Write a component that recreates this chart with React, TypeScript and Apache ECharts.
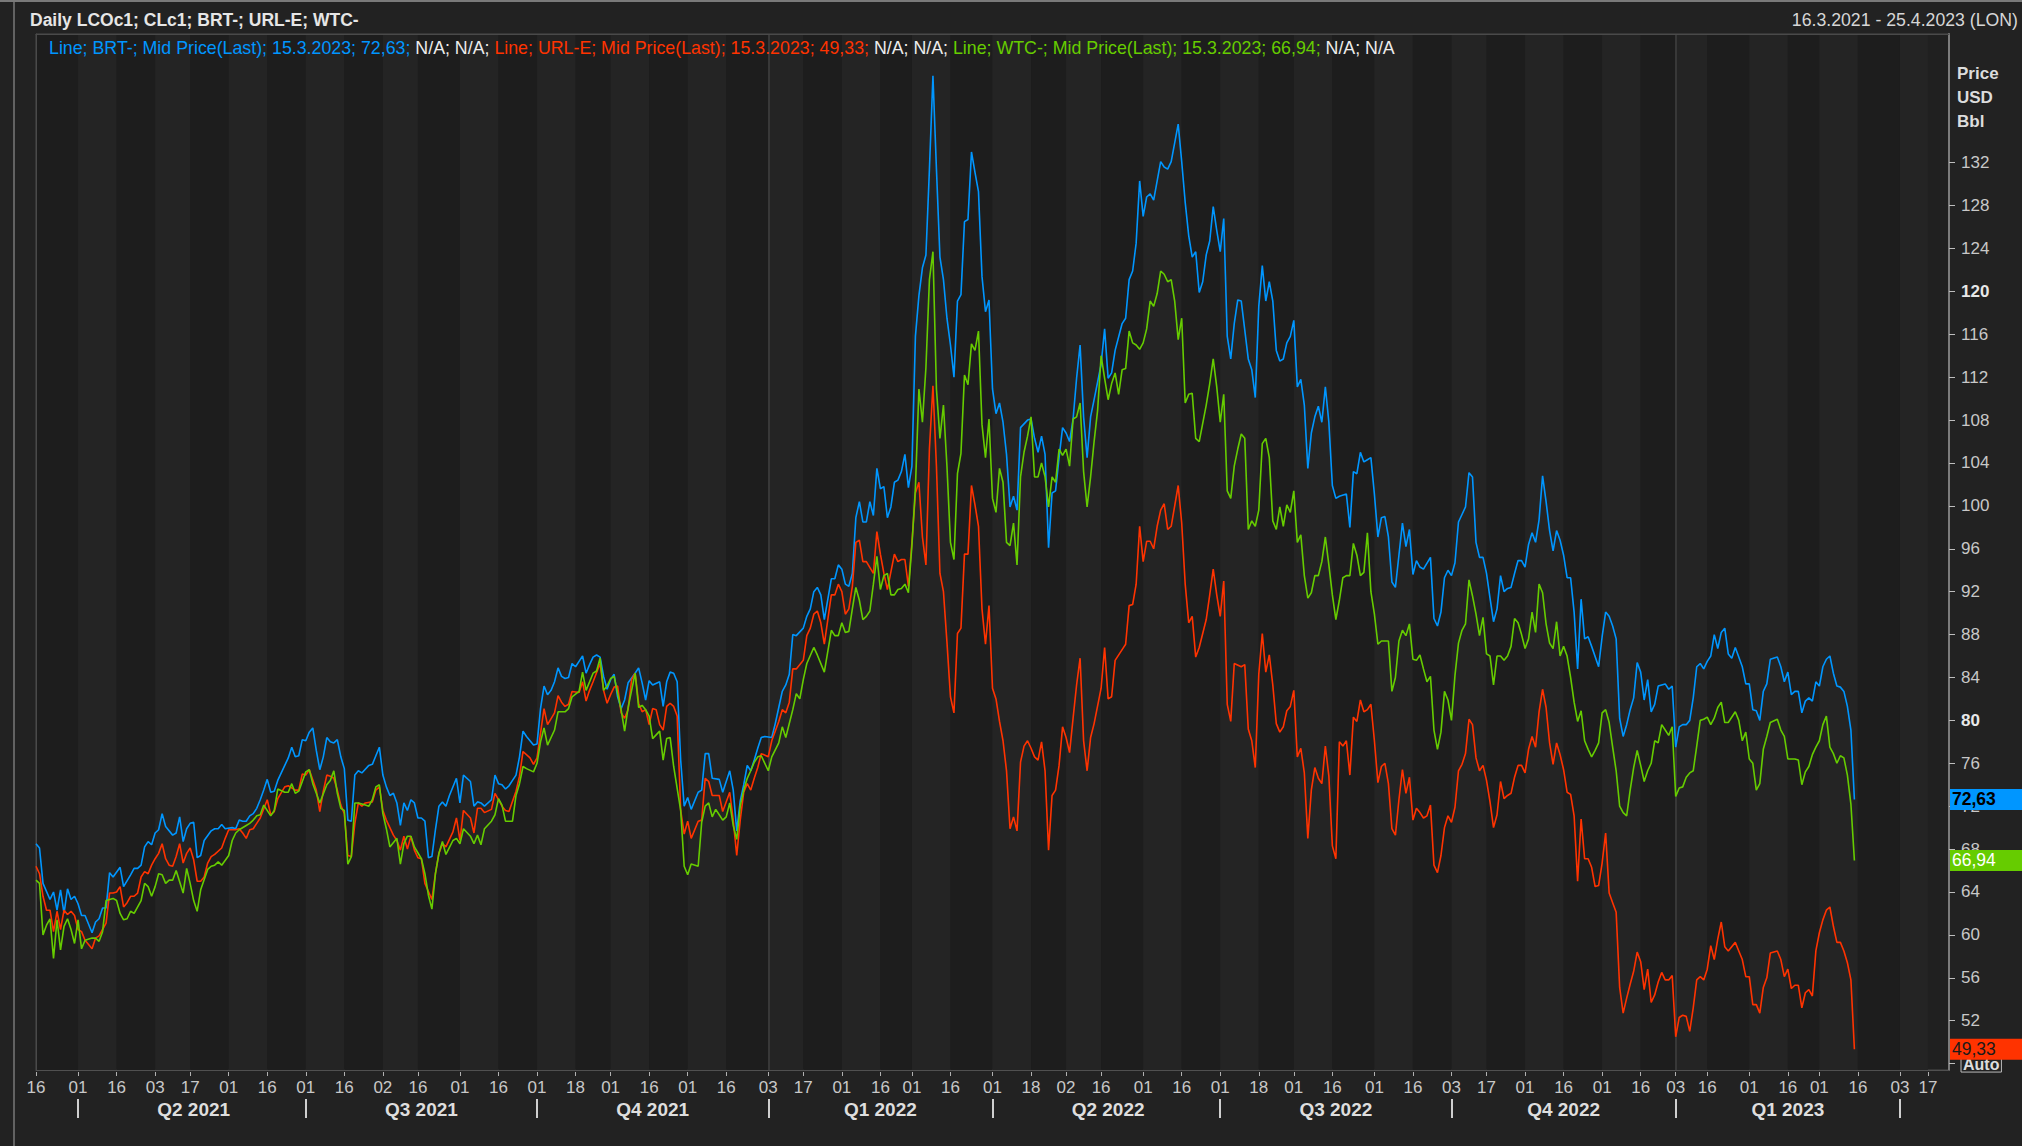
import React, { useEffect, useRef } from "react";
import * as echarts from "echarts";

// ---- calendar of the axis ----
const FIRST_DAY = "2021-03-16";
const LAST_DAY = "2023-04-25";
const NON_TRADING = ["2022-12-26", "2023-01-02", "2023-04-07", "2023-04-10"];

// ---- price axis tick labels ----
const Y_TICKS = [48, 52, 56, 60, 64, 68, 72, 76, 80, 84, 88, 92, 96, 100, 104, 108, 112, 116, 120, 124, 128, 132];

// ---- series: [weekday index since 16.3.2021 (Mon-Fri), USD/bbl] ----
const SERIES_NAMES = ["BRT-", "URL-E", "WTC-"];
const SERIES_COLORS = ["#0096ff", "#ff3300", "#66cc00"];
const TAG_TEXT_COLORS = ["#000000", "#1a1a1a", "#ffffff"];

const BRT: [number, number][] = [[0,68.5],[1,68.1],[2,64.8],[4,63.3],[5,64.0],[6,62.3],[7,64.2],[8,62.0],[9,64.3],[10,63.3],[11,63.6],[12,62.9],[13,61.8],[14,61.8],[16,60.2],[17,61.2],[18,61.5],[19,62.5],[20,62.5],[21,65.8],[22,65.4],[24,66.3],[25,64.5],[27,65.6],[28,66.2],[29,66.2],[30,66.5],[31,68.2],[32,68.7],[33,68.4],[34,69.5],[35,69.8],[36,71.3],[37,70.1],[39,69.3],[40,69.5],[41,71.0],[42,68.7],[43,69.9],[44,70.4],[45,70.5],[46,67.2],[47,67.4],[48,68.8],[50,69.7],[51,69.9],[52,69.9],[53,70.3],[54,69.9],[56,70.0],[57,69.9],[58,70.7],[59,70.6],[60,70.6],[61,71.1],[62,71.3],[63,71.8],[64,72.6],[65,73.5],[66,74.5],[67,73.3],[68,73.4],[69,74.4],[71,75.8],[72,76.5],[73,77.5],[74,76.6],[75,76.7],[76,78.2],[77,78.1],[78,78.9],[79,79.3],[80,77.2],[81,75.4],[82,76.6],[83,78.4],[84,78.0],[85,77.9],[86,78.2],[87,76.6],[88,75.5],[89,70.7],[90,70.6],[91,74.9],[92,75.3],[93,75.1],[95,75.8],[96,75.9],[97,76.7],[98,77.5],[99,74.9],[100,73.8],[101,73.0],[102,73.2],[103,72.3],[104,70.2],[105,72.3],[106,71.6],[107,72.6],[108,72.3],[109,70.9],[110,70.9],[111,70.6],[112,67.2],[113,67.3],[114,69.8],[115,72.0],[116,72.4],[117,72.0],[118,73.0],[120,74.6],[121,72.3],[122,74.9],[124,74.3],[125,72.0],[126,72.4],[127,72.3],[128,72.0],[130,72.6],[131,74.9],[132,74.1],[133,74.0],[134,73.6],[135,73.9],[136,74.4],[137,74.9],[138,76.6],[139,79.0],[140,78.5],[142,77.7],[143,77.8],[144,81.1],[145,83.2],[146,82.4],[147,82.8],[148,83.6],[149,84.9],[150,84.1],[151,83.9],[152,84.0],[153,85.3],[154,85.0],[155,85.5],[156,86.0],[157,84.4],[158,85.2],[159,85.9],[160,86.1],[161,85.9],[162,84.1],[163,82.9],[164,83.8],[165,84.3],[166,82.2],[167,81.1],[168,81.9],[169,83.5],[171,84.4],[172,84.9],[173,83.5],[174,81.9],[175,83.7],[176,83.3],[178,83.6],[179,81.3],[180,83.6],[181,84.5],[182,84.4],[183,83.6],[184,76.3],[185,72.0],[186,72.8],[187,71.7],[189,73.3],[190,73.5],[191,76.9],[192,76.9],[193,74.6],[195,74.5],[196,73.3],[198,75.3],[199,73.5],[200,69.7],[201,72.5],[202,74.0],[203,75.8],[204,75.3],[205,76.3],[206,77.4],[207,78.4],[208,78.5],[210,78.4],[211,79.7],[212,81.2],[213,82.7],[214,83.3],[215,84.3],[216,88.0],[217,87.9],[219,88.6],[220,89.7],[221,90.4],[222,92.0],[223,92.4],[224,91.7],[225,89.4],[227,93.2],[228,93.2],[229,94.5],[230,94.1],[231,92.7],[232,92.5],[233,93.7],[234,98.9],[235,100.4],[236,98.5],[237,98.5],[238,100.4],[239,99.1],[240,103.5],[241,101.6],[242,101.8],[243,98.9],[244,99.9],[245,102.2],[246,102.4],[247,103.2],[248,104.8],[249,101.7],[250,103.7],[251,115.8],[252,119.6],[253,122.2],[254,123.4],[255,131.4],[256,140.1],[257,131.4],[258,123.2],[259,121.1],[260,117.5],[261,115.0],[262,112.0],[263,119.1],[264,119.7],[265,126.5],[266,126.7],[267,133.0],[268,131.1],[269,129.3],[270,121.4],[271,118.1],[272,119.2],[273,110.9],[274,108.6],[275,109.6],[276,107.8],[277,104.8],[278,99.9],[279,100.9],[280,99.6],[281,107.3],[283,108.0],[284,108.1],[285,106.3],[286,105.0],[287,106.5],[288,104.8],[289,96.1],[290,101.2],[291,101.4],[292,104.5],[293,107.3],[294,106.8],[295,106.0],[296,108.1],[297,111.9],[298,115.0],[299,108.3],[300,104.5],[301,108.3],[302,109.9],[304,113.2],[305,116.5],[306,111.9],[307,112.4],[308,114.5],[310,117.0],[311,117.5],[312,121.1],[313,121.9],[314,124.5],[315,130.3],[316,127.0],[317,128.8],[318,129.1],[319,128.5],[320,130.3],[321,132.1],[322,131.6],[323,131.4],[324,132.1],[326,135.6],[327,132.1],[328,128.3],[329,125.2],[330,123.2],[331,123.7],[332,119.9],[333,120.9],[334,123.4],[335,124.7],[336,127.9],[337,125.7],[338,123.7],[339,126.8],[340,115.8],[341,113.7],[342,117.0],[343,119.2],[344,119.1],[346,113.7],[347,112.7],[348,110.1],[349,118.6],[350,122.4],[351,119.1],[352,120.9],[353,119.1],[354,114.5],[355,113.5],[356,113.7],[357,115.2],[358,115.8],[359,117.3],[360,111.1],[361,111.8],[362,109.4],[363,103.5],[364,106.8],[365,108.3],[366,109.3],[367,107.8],[368,111.1],[369,107.8],[370,101.9],[371,100.7],[372,100.9],[374,101.1],[375,98.0],[376,103.2],[377,103.0],[378,105.0],[379,104.1],[380,104.3],[381,104.5],[382,101.1],[383,97.1],[384,98.9],[385,99.0],[386,97.1],[387,92.9],[388,92.4],[389,95.4],[390,98.4],[391,96.2],[392,97.8],[393,93.6],[394,94.9],[395,94.3],[396,94.1],[398,95.2],[399,89.5],[400,88.8],[401,90.1],[402,93.3],[403,94.0],[404,93.5],[405,94.7],[406,98.5],[407,99.2],[408,99.9],[409,103.1],[410,102.7],[411,96.6],[412,95.2],[413,95.2],[414,93.7],[415,91.4],[416,89.2],[417,90.4],[418,93.5],[419,92.0],[420,92.3],[421,92.4],[422,93.7],[423,94.9],[424,94.9],[425,94.3],[426,96.4],[427,97.5],[428,96.6],[429,98.7],[430,102.8],[431,100.4],[432,97.7],[433,95.8],[434,97.7],[435,96.8],[436,95.4],[437,93.3],[438,93.3],[439,90.1],[440,84.8],[441,91.3],[442,87.6],[443,87.8],[444,86.9],[446,85.0],[447,87.8],[448,90.1],[449,89.7],[450,88.8],[451,87.6],[452,80.2],[453,78.5],[454,79.6],[455,81.0],[456,82.1],[457,85.4],[458,84.5],[459,81.9],[460,83.8],[461,80.8],[462,81.5],[463,83.2],[464,84.1],[466,83.4],[467,82.9],[468,83.2],[469,83.6],[470,77.5],[471,79.4],[472,79.6],[473,79.6],[474,80.0],[475,82.1],[476,85.0],[477,85.3],[478,84.8],[479,85.5],[480,86.0],[481,88.0],[482,86.7],[483,88.2],[484,88.6],[485,86.2],[486,85.8],[487,86.8],[488,85.9],[489,85.0],[490,83.4],[491,83.4],[492,81.0],[493,80.9],[494,80.0],[495,82.7],[496,83.4],[497,85.7],[499,85.9],[500,85.0],[501,83.6],[502,84.5],[503,82.4],[504,82.7],[505,82.7],[506,80.7],[507,81.8],[508,82.1],[509,81.8],[510,83.6],[511,83.2],[512,85.0],[513,85.7],[514,86.0],[515,84.4],[516,83.2],[517,83.1],[518,82.7],[519,81.3],[520,79.1],[521,72.63]];

const URL_E: [number, number][] = [[0,66.4],[1,65.7],[2,63.6],[3,62.3],[4,62.3],[5,60.3],[6,62.2],[7,60.5],[8,62.3],[9,61.9],[10,62.2],[11,61.8],[12,60.5],[13,60.3],[14,59.5],[16,58.7],[17,59.7],[18,59.9],[19,60.5],[20,61.1],[21,63.9],[22,63.9],[23,64.0],[24,64.5],[25,62.6],[26,63.0],[27,63.6],[28,63.6],[29,63.9],[30,65.4],[31,65.9],[32,65.7],[33,66.5],[34,67.1],[35,67.6],[36,68.5],[37,67.1],[38,66.5],[39,66.4],[40,67.3],[41,68.5],[42,66.7],[43,67.6],[44,68.1],[45,67.0],[46,65.0],[47,65.0],[48,65.4],[49,66.7],[50,67.3],[51,67.5],[53,68.1],[54,69.0],[55,69.8],[57,69.8],[58,69.9],[59,69.5],[60,69.0],[61,69.8],[62,69.9],[63,70.4],[64,70.9],[66,72.6],[67,71.2],[68,71.5],[69,72.7],[71,73.8],[72,73.9],[74,73.5],[75,73.5],[76,75.0],[77,74.9],[78,75.4],[80,73.5],[81,71.5],[82,73.4],[83,74.9],[84,74.8],[85,74.6],[86,73.5],[87,72.1],[88,71.3],[89,67.4],[90,67.3],[91,70.4],[92,72.3],[93,72.0],[94,72.3],[96,72.4],[97,73.5],[98,73.8],[99,71.6],[100,70.7],[102,69.3],[103,68.8],[104,67.9],[105,69.2],[106,68.0],[107,69.2],[108,67.9],[109,67.2],[110,67.1],[111,64.8],[113,63.3],[114,65.7],[115,67.6],[116,68.5],[117,68.2],[119,69.6],[120,70.9],[121,68.8],[122,71.6],[124,70.9],[125,69.5],[126,71.8],[127,71.8],[128,71.4],[130,71.7],[131,73.2],[132,72.6],[133,72.0],[134,71.6],[135,71.5],[137,73.4],[138,74.8],[139,77.1],[141,76.5],[142,75.9],[143,76.5],[144,78.8],[145,81.1],[146,79.6],[148,80.7],[149,82.3],[150,81.7],[151,81.3],[152,81.5],[153,82.7],[155,82.6],[156,83.6],[157,81.8],[158,82.8],[159,83.6],[161,85.3],[162,82.8],[163,81.6],[164,82.4],[165,83.1],[166,83.2],[167,80.7],[168,80.2],[169,81.0],[170,83.8],[171,84.4],[172,81.6],[173,80.8],[174,81.0],[175,79.6],[176,81.1],[177,81.0],[178,79.6],[179,79.1],[180,81.3],[181,81.6],[182,81.3],[183,80.4],[184,71.6],[185,69.4],[186,70.6],[187,69.0],[189,70.6],[190,70.7],[191,74.6],[192,74.3],[193,73.0],[195,73.0],[196,71.5],[198,73.3],[199,70.7],[200,67.4],[201,70.7],[202,73.3],[203,74.1],[204,73.5],[205,74.6],[206,75.6],[207,76.9],[209,76.6],[210,78.1],[212,79.9],[213,81.0],[214,80.7],[215,81.7],[216,84.8],[217,84.8],[219,85.6],[220,87.9],[221,88.6],[222,89.9],[223,90.2],[224,89.1],[225,87.1],[227,91.7],[228,91.7],[229,92.7],[230,92.0],[231,89.9],[232,90.4],[233,92.5],[234,96.6],[235,96.8],[236,94.8],[237,94.8],[239,93.7],[240,97.6],[241,95.5],[242,93.7],[243,92.2],[245,95.5],[246,94.8],[247,95.0],[248,95.0],[249,92.5],[250,96.6],[251,101.2],[252,102.2],[253,97.1],[254,94.5],[255,105.3],[256,111.2],[257,103.7],[258,93.7],[259,92.0],[260,87.3],[261,82.2],[262,80.7],[263,88.1],[264,88.6],[265,95.5],[266,95.5],[267,101.9],[268,100.1],[269,98.1],[270,90.4],[271,87.1],[272,90.7],[273,83.0],[274,82.0],[275,79.9],[276,78.1],[277,75.3],[278,69.9],[279,71.0],[280,69.7],[281,76.1],[282,77.6],[283,78.1],[284,77.4],[285,76.6],[286,76.3],[287,78.0],[288,75.3],[289,67.9],[290,73.0],[291,73.5],[292,75.8],[293,79.4],[294,78.4],[295,77.0],[296,80.2],[297,83.3],[298,85.8],[299,78.1],[300,75.3],[301,78.4],[302,79.7],[304,83.0],[305,86.8],[306,82.0],[307,82.2],[308,85.6],[310,86.6],[311,87.1],[312,90.7],[313,90.8],[314,92.7],[315,98.1],[316,94.8],[317,96.7],[318,96.7],[319,96.0],[320,98.1],[321,99.6],[322,100.2],[323,97.8],[324,98.1],[326,101.9],[327,98.4],[328,92.7],[329,89.1],[330,89.7],[331,85.9],[332,86.8],[334,89.4],[335,91.7],[336,94.1],[337,91.7],[338,89.7],[339,93.0],[340,81.5],[341,79.9],[342,85.3],[344,85.0],[345,85.2],[346,79.2],[347,78.1],[348,75.6],[349,84.3],[350,88.1],[351,84.5],[352,86.1],[353,83.3],[354,79.7],[355,78.9],[356,79.4],[357,80.9],[358,81.3],[359,82.8],[360,76.6],[361,77.4],[362,75.1],[363,69.0],[364,73.5],[365,75.6],[366,74.6],[367,74.1],[368,77.6],[369,74.8],[370,68.3],[371,67.1],[372,78.0],[373,77.6],[374,78.1],[375,74.9],[376,80.3],[377,79.9],[378,81.9],[379,80.8],[380,81.0],[381,81.5],[382,78.1],[383,74.2],[384,75.7],[385,76.0],[386,74.1],[387,69.9],[388,69.3],[389,72.6],[390,75.4],[391,73.2],[392,74.7],[393,70.7],[394,71.8],[395,71.4],[396,70.9],[397,71.1],[398,72.1],[399,66.5],[400,65.8],[401,67.4],[402,70.0],[403,71.1],[404,70.5],[405,71.9],[406,75.3],[407,75.9],[408,76.9],[409,80.1],[410,79.6],[411,76.5],[412,75.3],[413,75.8],[414,74.4],[415,72.4],[416,70.0],[417,71.2],[418,74.3],[419,72.7],[420,73.0],[421,73.2],[422,74.7],[423,75.8],[424,75.8],[425,75.1],[426,77.3],[427,78.5],[428,77.5],[429,80.8],[430,82.9],[431,81.2],[432,77.9],[433,75.9],[434,77.9],[435,76.8],[436,75.4],[437,73.3],[438,73.1],[439,71.1],[440,65.0],[441,70.8],[442,67.1],[443,67.1],[444,66.3],[445,64.5],[446,64.6],[447,66.7],[448,69.5],[449,63.9],[450,63.0],[451,62.1],[452,55.1],[453,52.7],[454,54.1],[455,55.4],[456,56.6],[457,58.4],[458,57.5],[459,54.9],[460,56.8],[461,53.7],[462,54.4],[463,55.6],[464,57.0],[465,56.5],[466,55.8],[467,55.8],[468,56.2],[469,56.5],[470,50.5],[471,52.3],[472,52.5],[473,52.4],[474,51.0],[475,53.2],[476,55.8],[477,56.1],[478,55.8],[479,56.8],[480,59.0],[481,57.7],[482,59.6],[483,61.2],[484,58.9],[485,58.5],[487,59.3],[488,58.5],[489,57.7],[490,56.1],[491,56.1],[492,53.5],[493,53.5],[494,52.7],[495,55.1],[496,56.0],[497,58.3],[499,58.5],[500,57.7],[501,56.1],[502,56.8],[503,55.0],[504,55.3],[505,55.3],[506,53.2],[507,54.6],[508,54.9],[509,54.3],[510,58.5],[511,60.2],[512,61.4],[513,62.3],[514,62.6],[515,60.8],[516,59.3],[517,59.3],[518,58.5],[519,57.4],[520,55.8],[521,49.33]];

const WTC: [number, number][] = [[0,65.1],[1,64.8],[2,60.0],[3,60.9],[4,61.5],[5,57.8],[6,61.4],[7,58.6],[8,60.8],[9,61.5],[10,60.5],[11,59.2],[12,61.4],[13,58.7],[14,59.5],[16,59.7],[17,59.7],[18,59.4],[19,60.3],[20,63.2],[21,63.3],[22,63.4],[23,63.2],[24,62.0],[25,61.4],[26,61.5],[27,62.2],[28,62.0],[30,63.2],[31,64.8],[32,64.5],[33,63.6],[34,64.5],[35,65.7],[36,65.6],[37,64.8],[38,65.1],[39,65.1],[40,66.0],[42,63.9],[43,66.2],[44,64.8],[45,63.2],[46,62.2],[47,64.2],[49,66.1],[50,66.4],[51,66.5],[52,66.8],[53,66.5],[55,67.4],[56,68.8],[57,69.5],[58,69.8],[60,70.2],[61,70.4],[62,70.7],[63,71.1],[64,71.2],[65,72.1],[67,71.1],[68,71.6],[69,73.6],[71,73.3],[72,73.3],[73,74.1],[74,73.2],[75,73.4],[77,75.2],[78,75.4],[79,74.1],[80,73.2],[81,72.3],[83,74.0],[84,74.4],[85,75.3],[86,73.2],[87,71.8],[88,71.6],[89,66.6],[90,67.3],[91,72.3],[92,72.3],[94,72.1],[95,72.0],[96,72.6],[97,73.8],[98,74.0],[99,71.3],[100,69.9],[101,68.2],[103,69.0],[104,66.6],[105,68.5],[106,69.2],[107,69.2],[108,68.2],[110,67.1],[111,65.7],[112,63.7],[113,62.4],[114,65.7],[115,67.6],[116,68.7],[117,67.5],[119,68.8],[120,69.0],[121,68.5],[122,69.9],[124,69.2],[125,68.5],[126,69.3],[127,68.4],[128,69.9],[130,70.6],[131,71.2],[132,72.7],[133,72.1],[134,70.6],[136,70.6],[137,73.0],[138,74.1],[139,75.7],[140,75.5],[142,75.2],[143,76.0],[144,78.0],[145,79.3],[146,77.7],[148,79.1],[149,80.8],[151,80.8],[152,81.1],[153,82.2],[155,82.7],[156,84.5],[157,82.8],[159,84.4],[160,84.6],[161,85.8],[162,82.8],[163,83.2],[164,83.9],[165,84.1],[167,81.0],[168,79.0],[169,81.2],[170,82.8],[171,84.4],[172,81.2],[173,81.4],[174,81.0],[175,80.4],[176,78.3],[178,79.0],[179,76.3],[180,78.3],[181,78.4],[182,75.7],[184,71.6],[185,66.4],[186,65.6],[187,66.6],[189,66.4],[190,70.5],[191,72.0],[192,72.3],[193,71.0],[194,71.7],[195,71.2],[196,70.7],[197,71.0],[198,72.3],[199,70.2],[200,68.9],[201,72.0],[202,73.5],[203,74.6],[204,75.3],[205,76.1],[206,76.6],[207,76.7],[209,75.3],[210,76.6],[212,77.9],[213,79.4],[214,78.4],[216,81.0],[217,82.5],[218,82.0],[219,83.8],[220,85.3],[222,86.8],[223,86.1],[225,84.5],[227,88.4],[228,87.9],[229,87.9],[230,89.1],[231,88.2],[232,88.3],[233,90.4],[234,92.4],[235,91.2],[236,89.4],[237,89.7],[238,90.2],[239,92.7],[240,95.3],[241,92.2],[242,93.5],[243,93.7],[244,91.7],[245,91.7],[246,92.2],[247,92.3],[248,92.7],[249,91.9],[250,96.3],[251,101.7],[252,110.9],[253,107.8],[254,112.9],[255,121.1],[256,123.7],[257,110.9],[258,106.3],[259,109.4],[260,103.7],[261,96.6],[262,95.0],[263,103.0],[264,104.9],[265,112.2],[266,111.3],[267,115.1],[268,114.5],[269,116.3],[270,107.6],[271,104.5],[272,108.1],[273,100.7],[274,99.4],[275,103.5],[276,102.2],[277,96.6],[278,96.3],[279,98.4],[280,94.5],[281,102.7],[282,105.0],[283,106.5],[284,108.3],[285,102.7],[286,102.7],[287,104.0],[288,102.7],[289,99.9],[290,102.7],[291,102.2],[292,105.3],[293,104.7],[294,105.3],[295,103.7],[296,108.1],[297,108.3],[298,109.6],[299,103.2],[300,99.9],[301,102.7],[302,106.0],[303,108.9],[304,114.0],[305,111.9],[306,109.9],[307,111.4],[308,112.4],[309,110.4],[310,112.7],[311,112.8],[312,116.3],[313,115.2],[314,115.0],[315,114.6],[316,115.2],[317,116.5],[318,119.1],[319,118.6],[320,119.8],[321,121.9],[322,121.6],[323,120.9],[324,121.1],[325,119.1],[326,115.5],[327,117.5],[328,109.6],[329,110.4],[330,110.5],[331,106.3],[332,106.0],[334,109.4],[335,111.4],[336,113.7],[337,111.1],[338,107.8],[339,110.4],[340,101.4],[341,100.7],[342,103.7],[343,105.3],[344,106.7],[345,106.3],[346,97.8],[347,98.6],[348,98.1],[349,99.6],[350,105.8],[351,106.3],[352,104.5],[353,98.6],[354,97.8],[355,99.9],[356,98.1],[357,100.1],[358,99.4],[359,101.4],[360,96.6],[361,97.3],[362,93.5],[363,91.4],[364,91.9],[365,93.5],[366,93.5],[367,94.8],[368,97.1],[369,94.5],[370,91.7],[371,89.4],[372,91.2],[373,93.3],[374,93.5],[375,93.5],[376,96.5],[377,95.4],[378,93.5],[379,93.8],[380,97.5],[381,92.0],[382,89.9],[383,87.1],[384,87.4],[386,87.4],[387,82.7],[388,84.0],[389,87.4],[390,88.4],[391,87.9],[392,89.0],[393,85.7],[394,85.6],[395,86.1],[396,84.8],[397,83.6],[398,84.1],[399,79.1],[400,77.3],[401,78.9],[402,82.7],[403,81.9],[404,80.0],[405,84.2],[406,87.2],[407,88.4],[408,89.0],[409,93.1],[410,91.6],[411,89.9],[412,87.9],[413,89.6],[414,86.2],[415,86.0],[416,83.3],[417,86.0],[418,86.0],[419,85.6],[420,86.0],[421,86.9],[422,89.5],[423,89.1],[424,88.0],[425,86.7],[426,87.6],[427,90.1],[428,88.2],[429,92.7],[430,91.9],[431,89.0],[432,87.2],[433,86.7],[434,89.2],[435,86.0],[436,86.9],[437,86.0],[438,84.0],[439,81.7],[440,79.9],[441,80.9],[442,78.1],[443,77.3],[444,76.6],[445,77.2],[446,77.9],[447,80.7],[448,81.0],[449,79.8],[450,77.5],[451,75.3],[452,72.0],[453,71.4],[454,71.1],[455,73.5],[456,75.6],[457,77.2],[458,75.8],[459,74.3],[460,75.3],[461,76.0],[462,78.1],[463,77.9],[464,79.6],[465,79.6],[466,79.1],[467,78.6],[468,79.4],[469,80.2],[470,72.9],[471,73.7],[472,73.8],[473,74.7],[474,75.1],[475,75.3],[476,77.6],[477,80.0],[478,80.1],[479,80.3],[480,79.6],[481,80.2],[482,81.2],[483,81.7],[484,79.8],[485,79.8],[487,80.8],[488,80.0],[489,78.1],[490,78.9],[491,76.4],[492,76.0],[493,73.5],[494,74.1],[495,77.3],[496,78.5],[497,79.8],[499,80.1],[500,79.1],[501,78.5],[502,76.4],[504,76.4],[505,76.3],[506,74.0],[507,75.2],[508,75.7],[509,76.8],[510,77.5],[511,78.1],[512,79.6],[513,80.4],[514,77.5],[515,76.9],[516,76.0],[517,76.7],[518,76.5],[519,74.9],[520,72.2],[521,66.94]];

const SERIES_DATA = [BRT, URL_E, WTC];

// ---- calendar helpers ----
function buildWeekdays(): string[] {
  const out: string[] = [];
  const d = new Date(FIRST_DAY + "T00:00:00Z");
  const end = new Date(LAST_DAY + "T00:00:00Z").getTime();
  while (d.getTime() <= end) {
    const wd = d.getUTCDay();
    if (wd !== 0 && wd !== 6) out.push(d.toISOString().slice(0, 10));
    d.setUTCDate(d.getUTCDate() + 1);
  }
  return out;
}
const WEEKDAYS = buildWeekdays();
const DAYS = WEEKDAYS.filter((s) => NON_TRADING.indexOf(s) < 0);
const DAY_INDEX: Record<string, number> = {};
DAYS.forEach((s, i) => { DAY_INDEX[s] = i; });

const monthOf = (s: string) => s.slice(5, 7);
const dayOf = (s: string) => +s.slice(8, 10);
const fmtDate = (s: string) => `${dayOf(s)}.${+monthOf(s)}.${s.slice(0, 4)}`;
const fmtNum = (v: number) => v.toFixed(2).replace(".", ",");

function isHalfMonthTick(i: number): boolean {
  if (i === 0) return true;
  const s = DAYS[i], p = DAYS[i - 1];
  if (!s || !p) return false;
  if (monthOf(s) !== monthOf(p)) return true;
  return dayOf(s) >= 16 && dayOf(p) < 16;
}
function isQuarterStart(i: number): boolean {
  if (i <= 0 || !DAYS[i]) return false;
  const s = DAYS[i], p = DAYS[i - 1];
  return monthOf(s) !== monthOf(p) && (+monthOf(s) - 1) % 3 === 0;
}
function isYearStart(i: number): boolean {
  return i > 0 && !!DAYS[i] && DAYS[i].slice(0, 4) !== DAYS[i - 1].slice(0, 4);
}
const Q_STARTS = DAYS.map((_, i) => i).filter(isQuarterStart);
const Q_LABELS: Record<number, string> = {};
for (let k = 0; k < Q_STARTS.length - 1; k++) {
  const a = Q_STARTS[k], b = Q_STARTS[k + 1];
  const s = DAYS[a];
  Q_LABELS[Math.round((a + b) / 2)] = `Q${Math.floor((+monthOf(s) - 1) / 3) + 1} ${s.slice(0, 4)}`;
}

const FONT = '"Liberation Sans", Arial, sans-serif';
const LABEL_GRAY = "#c8c8c8";

export default function App() {
  const ref = useRef<HTMLDivElement>(null);

  useEffect(() => {
    document.body.style.margin = "0";
    document.body.style.background = "#222222";
    const chart = echarts.init(ref.current as HTMLDivElement, null, { renderer: "svg" });

    // map weekday index -> category index of the axis (skipping non-trading days)
    const seriesPoints = SERIES_DATA.map((arr) =>
      arr
        .map(([w, v]) => [DAY_INDEX[WEEKDAYS[w]], v] as [number, number])
        .filter((p) => p[0] !== undefined)
    );
    const lastRaw = SERIES_DATA.map((d) => d[d.length - 1]);
    const richKeys = ["b", "r", "g"];
    const legendText = SERIES_NAMES.map((n, k) => {
      const [w, v] = lastRaw[k];
      const last = k === SERIES_NAMES.length - 1;
      return `{${richKeys[k]}|Line; ${n}; Mid Price(Last); ${fmtDate(WEEKDAYS[w])}; ${fmtNum(v)};} {w|N/A; N/A${last ? "" : ";"}}`;
    }).join(" ");

    const baseXAxis = { type: "category", data: DAYS, boundaryGap: false, gridIndex: 0 };

    const option: any = {
      animation: false,
      backgroundColor: "#222222",
      textStyle: { fontFamily: FONT },
      title: [
        {
          text: "Daily LCOc1; CLc1; BRT-; URL-E; WTC-",
          left: 30, top: 11, padding: 0,
          textStyle: { color: "#e6e6e6", fontSize: 17.5, fontWeight: "bold", fontFamily: FONT },
        },
        {
          text: `${fmtDate(DAYS[0])} - ${fmtDate(DAYS[DAYS.length - 1])} (LON)`,
          right: 4, top: 11, padding: 0,
          textStyle: { color: "#d6d6d6", fontSize: 17.7, fontWeight: "normal", fontFamily: FONT },
        },
        {
          text: legendText,
          left: 49, top: 39, padding: 0,
          textStyle: {
            fontSize: 17.8, color: "#e8e8e8", fontWeight: "normal", fontFamily: FONT,
            rich: {
              b: { color: SERIES_COLORS[0], fontSize: 17.8, fontFamily: FONT },
              r: { color: SERIES_COLORS[1], fontSize: 17.8, fontFamily: FONT },
              g: { color: SERIES_COLORS[2], fontSize: 17.8, fontFamily: FONT },
              w: { color: "#ececec", fontSize: 17.8, fontFamily: FONT },
            },
          },
        },
      ],
      grid: {
        left: 36, right: 73, top: 34, bottom: 76,
        show: true, backgroundColor: "#202020", borderColor: "#4a4a4a", borderWidth: 1,
        containLabel: false,
      },
      xAxis: [
        {
          ...baseXAxis,
          position: "bottom",
          offset: 2,
          z: 0,
          axisLine: { show: false },
          axisTick: { show: true, interval: isHalfMonthTick, length: 4, lineStyle: { color: "#b0b0b0", width: 1 } },
          axisLabel: {
            show: true, interval: isHalfMonthTick, margin: 7,
            color: LABEL_GRAY, fontSize: 17, fontFamily: FONT,
            formatter: (v: string) => v.slice(8, 10),
          },
          splitLine: { show: false },
          splitArea: { show: true, interval: isHalfMonthTick, areaStyle: { color: ["#1d1d1d", "#242424"] } },
        },
        {
          ...baseXAxis,
          position: "bottom",
          offset: 29,
          z: 1,
          axisLine: { show: false },
          axisTick: { show: true, interval: isQuarterStart, length: 19, lineStyle: { color: "#cfcfcf", width: 2 } },
          axisLabel: {
            show: true, interval: (i: number) => Q_LABELS[i] !== undefined, margin: 1,
            color: "#dedede", fontSize: 19, fontWeight: "bold", fontFamily: FONT,
            formatter: (_v: string, i: number) => Q_LABELS[i] || "",
          },
          splitLine: { show: true, interval: isYearStart, lineStyle: { color: "#383838", width: 2 } },
          splitArea: { show: false },
        },
        {
          ...baseXAxis,
          position: "top",
          z: 3,
          axisLine: { show: true, lineStyle: { color: "#4a4a4a", width: 1 } },
          axisTick: { show: false }, axisLabel: { show: false }, splitLine: { show: false },
        },
        {
          ...baseXAxis,
          position: "bottom",
          offset: 0,
          z: 3,
          axisLine: { show: true, lineStyle: { color: "#505050", width: 1 } },
          axisTick: { show: false }, axisLabel: { show: false }, splitLine: { show: false },
        },
      ],
      yAxis: [
        {
          type: "value",
          position: "right",
          min: 47.4,
          max: 144,
          z: 3,
          axisLine: { show: true, lineStyle: { color: "#7c7c7c", width: 2 } },
          axisTick: { show: true, customValues: Y_TICKS, length: 6, lineStyle: { color: "#bdbdbd", width: 1 } },
          axisLabel: {
            show: true, customValues: Y_TICKS, margin: 12,
            color: LABEL_GRAY, fontSize: 17, fontFamily: FONT,
            formatter: (v: number) => (v === Y_TICKS[0] ? "{a|Auto}" : v % 40 === 0 ? `{b|${v}}` : `${v}`),
            rich: {
              a: { color: "#dddddd", fontWeight: "bold", fontSize: 16, borderColor: "#bbbbbb", borderWidth: 1, padding: [1, 2, 0, 2], fontFamily: FONT },
              b: { color: "#e8e8e8", fontWeight: "bold", fontSize: 17, fontFamily: FONT },
            },
          },
          splitLine: { show: false },
          name: "Price\nUSD\nBbl",
          nameLocation: "end",
          nameGap: -27,
          nameTextStyle: {
            color: "#dcdcdc", fontWeight: "bold", fontSize: 17, lineHeight: 24,
            align: "left", verticalAlign: "top", padding: [0, 0, 0, 8], fontFamily: FONT,
          },
        },
        {
          type: "value",
          position: "left",
          min: 47.4,
          max: 144,
          z: 3,
          axisLine: { show: true, lineStyle: { color: "#4a4a4a", width: 1 } },
          axisTick: { show: false }, axisLabel: { show: false }, splitLine: { show: false },
        },
      ],
      graphic: [
        { type: "rect", shape: { x: 0, y: 0, width: 2022, height: 2 }, style: { fill: "#7a7a7a" }, silent: true },
        { type: "rect", shape: { x: 13, y: 2, width: 2, height: 1144 }, style: { fill: "#626262" }, silent: true },
      ],
      series: SERIES_NAMES.map((name, k) => ({
        type: "line",
        name,
        data: seriesPoints[k],
        xAxisIndex: 0,
        yAxisIndex: 0,
        showSymbol: false,
        symbol: "none",
        z: 4 + k,
        emphasis: { disabled: true },
        lineStyle: { color: SERIES_COLORS[k], width: 1.6 },
        itemStyle: { color: SERIES_COLORS[k] },
        markLine: {
          silent: true,
          symbol: ["none", "none"],
          lineStyle: { color: "rgba(0,0,0,0)", width: 0, type: "solid" },
          emphasis: { disabled: true },
          data: [{ yAxis: lastRaw[k][1] }],
          label: {
            show: true,
            position: "end",
            distance: 1,
            formatter: () => fmtNum(lastRaw[k][1]),
            backgroundColor: SERIES_COLORS[k],
            color: TAG_TEXT_COLORS[k],
            fontWeight: k === 0 ? "bold" : "normal",
            fontSize: 17.5,
            lineHeight: 19,
            width: 70,
            padding: [1, 0, 1, 2],
            opacity: 1,
            fontFamily: FONT,
          },
        },
      })),
    };

    chart.setOption(option);
    return () => chart.dispose();
  }, []);

  return (
    <div
      ref={ref}
      style={{ position: "absolute", left: 0, top: 0, width: 2022, height: 1146, background: "#222222" }}
    />
  );
}
